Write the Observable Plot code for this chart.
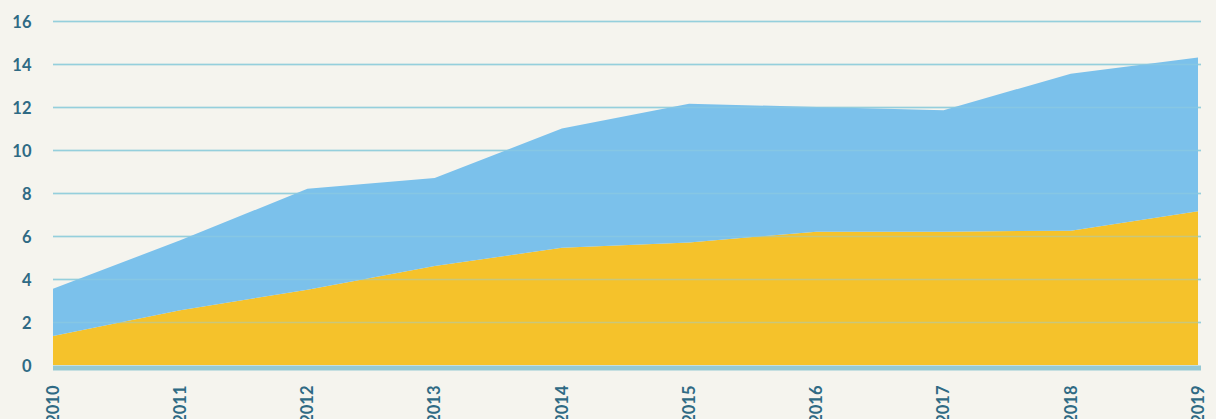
<!DOCTYPE html>
<html>
<head>
<meta charset="utf-8">
<script src="https://cdn.jsdelivr.net/npm/d3@7"></script>
<script src="https://cdn.jsdelivr.net/npm/@observablehq/plot@0.6"></script>
<style>
  html, body { margin: 0; padding: 0; background: #f5f4ee; }
  #chart { width: 1216px; height: 419px; overflow: hidden; }
</style>
</head>
<body>
<div id="chart"></div>
<script>
const years = [2010, 2011, 2012, 2013, 2014, 2015, 2016, 2017, 2018, 2019];
const seriesNames = ["A", "B"];
const seriesA = [1.35, 2.55, 3.5, 4.6, 5.45, 5.7, 6.2, 6.2, 6.25, 7.15];   // yellow (bottom)
const seriesB = [2.2, 3.25, 4.7, 4.1, 5.55, 6.45, 5.8, 5.65, 7.3, 7.15];   // blue (stacked on top)
const yTicks = [0, 2, 4, 6, 8, 10, 12, 14, 16];

const rows = [];
years.forEach((yr, i) => {
  rows.push({year: yr, series: seriesNames[0], value: seriesA[i]});
  rows.push({year: yr, series: seriesNames[1], value: seriesB[i]});
});

const font = "Lato, 'DejaVu Sans', sans-serif";

const chart = Plot.plot({
  width: 1216,
  height: 419,
  marginLeft: 53,
  marginRight: 18,
  marginTop: 21,
  marginBottom: 54,
  style: { background: "#f5f4ee", fontFamily: font },
  x: { domain: [2010, 2019], label: null },
  y: { domain: [0, 16], label: null },
  color: { domain: seriesNames, range: ["#f5c22b", "#7bc1eb"] },
  marks: [
    Plot.ruleY(yTicks.filter(d => d > 0), { stroke: "#95cfdc", strokeWidth: 1.3, insetRight: -3 }),
    Plot.areaY(rows, { x: "year", y: "value", fill: "series", z: "series", order: seriesNames }),
    Plot.ruleY(yTicks.filter(d => d > 0), { stroke: "#95cfdc", strokeWidth: 1.3, strokeOpacity: 0.45, insetRight: -3 }),
    Plot.ruleY([0], { stroke: "#96c9d4", strokeWidth: 5, dy: 2.5, insetRight: -3 }),
    Plot.axisY(yTicks, { tickSize: 0, tickPadding: 22, fontSize: 16.5, fontWeight: "bold", fill: "#2f6a84", dy: 1.5, label: null }),
    Plot.axisX(years, { tickSize: 0, tickRotate: -90, tickPadding: 20, fontSize: 16.5, fontWeight: "bold", fill: "#2f6a84", tickFormat: d => String(d), label: null })
  ]
});

document.getElementById("chart").appendChild(chart);
</script>
</body>
</html>
